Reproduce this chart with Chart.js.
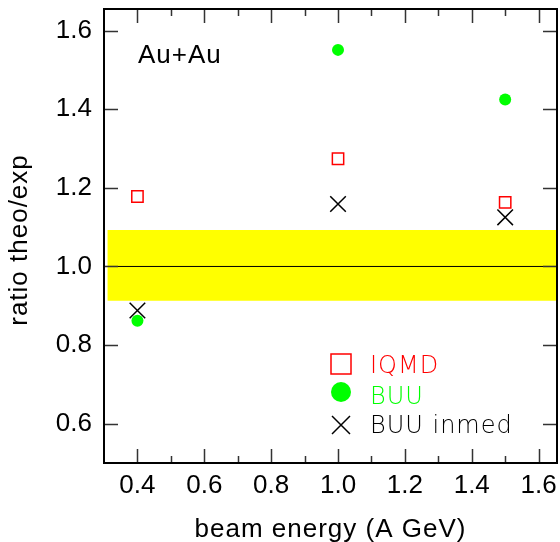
<!DOCTYPE html>
<html><head><meta charset="utf-8">
<style>html,body{margin:0;padding:0;background:#fff}#wrap{width:560px;height:542px}</style>
<script src="https://cdn.jsdelivr.net/npm/chart.js@4/dist/chart.umd.min.js"></script>
</head><body><div id="wrap"><canvas id="c" width="560" height="542"></canvas></div>
<script>
// ---- data ----
const energies = [0.4, 1.0, 1.5];
const iqmd = [1.178, 1.274, 1.163];
const buu = [0.862, 1.551, 1.425];
const buuInmed = [0.888, 1.159, 1.125];
const xTicks = [0.4, 0.6, 0.8, 1.0, 1.2, 1.4, 1.6];
const xMinorTicks = [0.5, 0.7, 0.9, 1.1, 1.3, 1.5];
const yTicks = [0.6, 0.8, 1.0, 1.2, 1.4, 1.6];
const bandX = [0.31, 1.652];
const bandLow = 0.913;
const bandHigh = 1.093;
const refX = [0.3, 1.655];
const refY = 1.0;
const seriesNames = ['IQMD', 'BUU', 'BUU inmed'];
const systemLabel = 'Au+Au';
const xTitle = 'beam energy (A GeV)';
const yTitle = 'ratio theo/exp';

const RED = '#ff0000', GREEN = '#00ff00', BLACK = '#000000', YELLOW = '#ffff00';
const FONT = '"Liberation Sans", Arial, Helvetica, sans-serif';

const pts = (xs, ys) => xs.map((x, i) => ({x, y: ys[i]}));
const noPad = s => { s.paddingTop = 0; s.paddingBottom = 0; s.paddingLeft = 0; s.paddingRight = 0; };

const decor = {
  id: 'decor',
  afterDraw(chart) {
    const {ctx, chartArea: a, scales: {x, y}} = chart;
    ctx.save();
    // ticks
    ctx.strokeStyle = '#333';
    ctx.lineWidth = 1.5;
    ctx.beginPath();
    xTicks.forEach(v => {
      const p = Math.round(x.getPixelForValue(v)) + 0.5;
      ctx.moveTo(p, a.bottom); ctx.lineTo(p, a.bottom - 14);
      ctx.moveTo(p, a.top); ctx.lineTo(p, a.top + 14);
    });
    xMinorTicks.forEach(v => {
      const p = Math.round(x.getPixelForValue(v)) + 0.5;
      ctx.moveTo(p, a.bottom); ctx.lineTo(p, a.bottom - 7);
      ctx.moveTo(p, a.top); ctx.lineTo(p, a.top + 7);
    });
    yTicks.forEach(v => {
      const p = Math.round(y.getPixelForValue(v)) + 0.5;
      ctx.moveTo(a.left, p); ctx.lineTo(a.left + 14, p);
      ctx.moveTo(a.right, p); ctx.lineTo(a.right - 14, p);
    });
    ctx.stroke();
    // frame
    ctx.strokeStyle = BLACK;
    ctx.lineWidth = 2;
    ctx.strokeRect(a.left, a.top, a.right - a.left, a.bottom - a.top);

    // titles
    ctx.fillStyle = BLACK;
    ctx.font = '26px ' + FONT;
    ctx.letterSpacing = '1px';
    ctx.textAlign = 'center';
    ctx.textBaseline = 'alphabetic';
    ctx.fillText(xTitle, (a.left + a.right) / 2, 537);
    ctx.save();
    ctx.translate(27, 240);
    ctx.rotate(-Math.PI / 2);
    ctx.fillText(yTitle, 0, 0);
    ctx.restore();
    ctx.textAlign = 'left';
    ctx.fillText(systemLabel, 138, 63);

    // legend
    const mx = 341, rows = [364, 392, 425], base = [373, 404, 433];
    ctx.lineWidth = 1.5;
    ctx.strokeStyle = RED;
    ctx.strokeRect(mx - 10, rows[0] - 10, 20, 20);
    ctx.fillStyle = GREEN;
    ctx.beginPath(); ctx.arc(mx, rows[1], 10, 0, Math.PI * 2); ctx.fill();
    ctx.strokeStyle = BLACK;
    ctx.beginPath();
    ctx.moveTo(mx - 9, rows[2] - 9); ctx.lineTo(mx + 9, rows[2] + 9);
    ctx.moveTo(mx + 9, rows[2] - 9); ctx.lineTo(mx - 9, rows[2] + 9);
    ctx.stroke();
    ctx.font = '200 24px "DejaVu Sans", sans-serif';
    ctx.letterSpacing = '1px';
    const cols = [RED, GREEN, BLACK];
    seriesNames.forEach((n, i) => {
      ctx.fillStyle = cols[i];
      ctx.fillText(n, 370, base[i]);
    });
    ctx.restore();
  }
};

new Chart(document.getElementById('c'), {
  type: 'scatter',
  data: {
    datasets: [
      {label: seriesNames[0], data: pts(energies, iqmd), pointStyle: 'rect', pointRadius: 8,
       borderColor: RED, backgroundColor: 'rgba(0,0,0,0)', borderWidth: 1.5, showLine: false},
      {label: seriesNames[1], data: pts(energies, buu), pointStyle: 'circle', pointRadius: 6,
       borderColor: GREEN, backgroundColor: GREEN, borderWidth: 0, showLine: false},
      {label: seriesNames[2], data: pts(energies, buuInmed), pointStyle: 'crossRot', pointRadius: 11,
       borderColor: BLACK, backgroundColor: BLACK, borderWidth: 1.5, showLine: false},
      {label: 'ref', type: 'line', data: pts(refX, [refY, refY]), borderColor: BLACK, borderWidth: 1,
       pointRadius: 0, fill: false},
      {label: 'band', type: 'line', data: pts(bandX, [bandHigh, bandHigh]), borderWidth: 0,
       borderColor: 'rgba(0,0,0,0)', backgroundColor: YELLOW, pointRadius: 0,
       fill: {value: bandLow}}
    ]
  },
  options: {
    responsive: false,
    animation: false,
    devicePixelRatio: 1,
    layout: {autoPadding: false, padding: {top: 9, right: 3, left: 0, bottom: 0}},
    plugins: {legend: {display: false}, tooltip: {enabled: false}},
    scales: {
      x: {
        type: 'linear', min: 0.3, max: 1.655,
        grid: {display: false, drawTicks: false}, border: {display: false},
        afterBuildTicks: s => { s.ticks = xTicks.map(v => ({value: v})); },
        afterFit: s => { s.height = 79; noPad(s); },
        ticks: {padding: 7, color: BLACK, font: {family: FONT, size: 26},
                callback: v => Number(v).toFixed(1), maxRotation: 0, autoSkip: false}
      },
      y: {
        type: 'linear', min: 0.5, max: 1.655,
        grid: {display: false, drawTicks: false}, border: {display: false},
        afterBuildTicks: s => { s.ticks = yTicks.map(v => ({value: v})); },
        afterFit: s => { s.width = 104; noPad(s); },
        ticks: {padding: 12, color: BLACK, font: {family: FONT, size: 26},
                callback: v => Number(v).toFixed(1), autoSkip: false}
      }
    }
  },
  plugins: [decor]
});
</script></body></html>
